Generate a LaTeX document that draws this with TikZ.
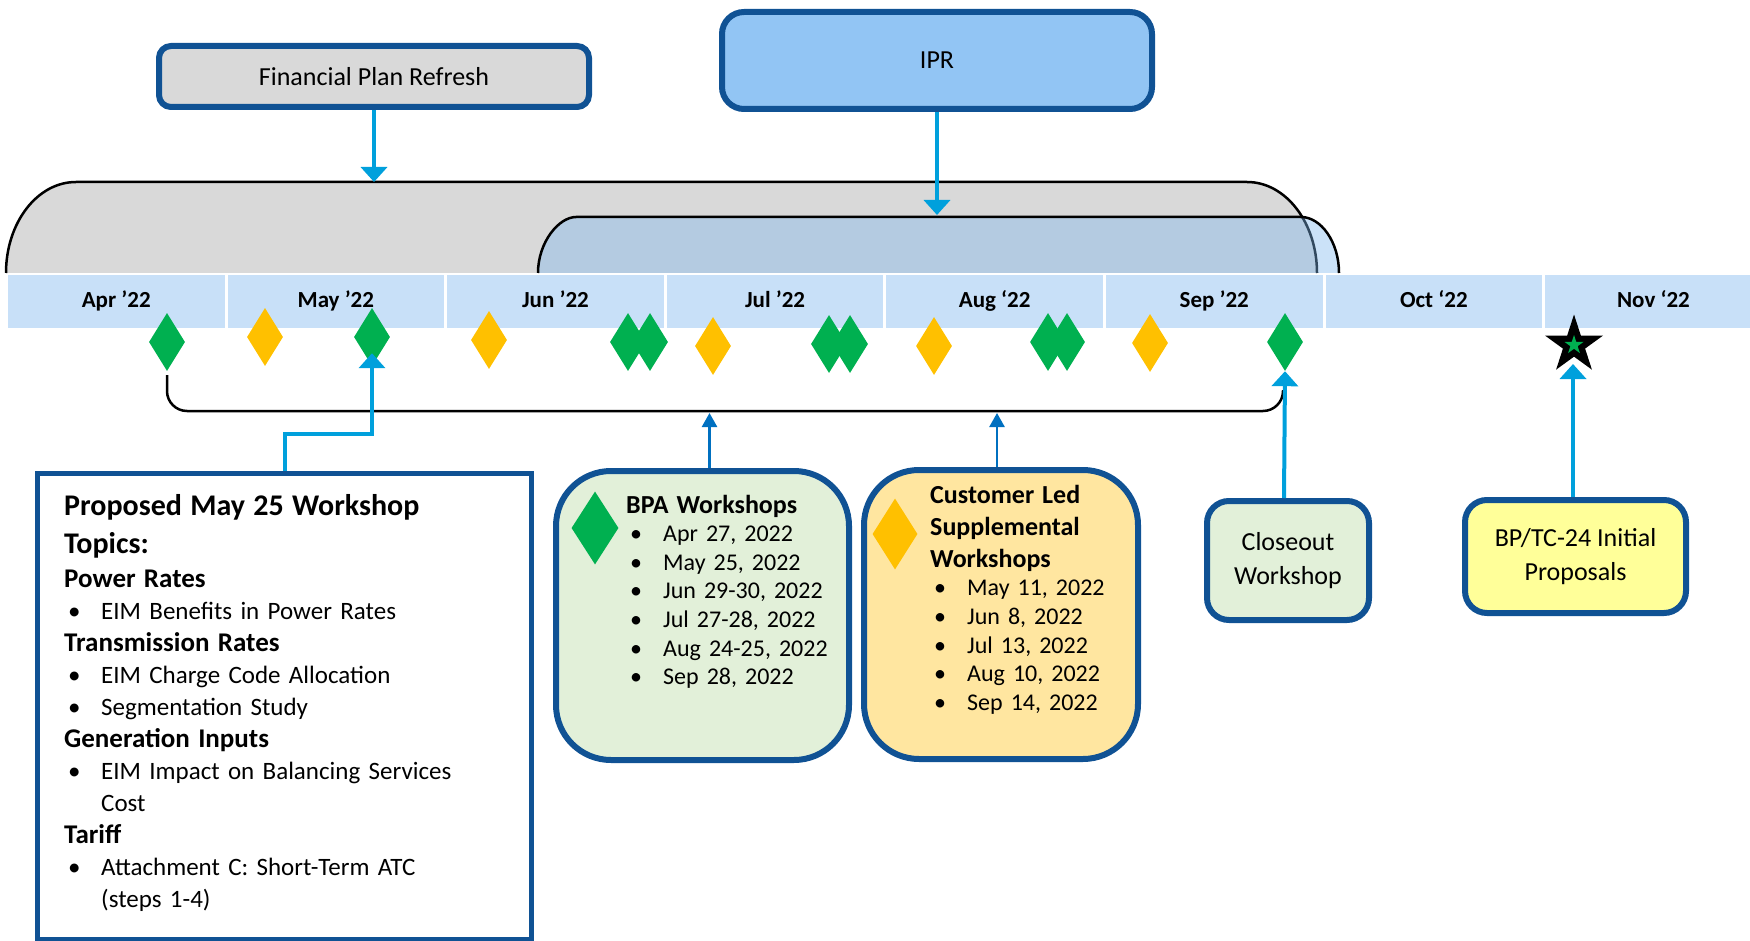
\documentclass[tikz,border=0pt]{standalone}
\usepackage{fontspec}
\setmainfont{Carlito}
\usetikzlibrary{positioning,shapes.geometric,arrows.meta}

\definecolor{edgeblue}{RGB}{16,82,148}
\definecolor{feedcyan}{RGB}{0,160,220}
\definecolor{linkblue}{RGB}{0,112,192}
\definecolor{monthblue}{RGB}{200,224,248}
\definecolor{grayfill}{RGB}{217,217,217}
\definecolor{arcblue}{RGB}{125,183,238}
\definecolor{iprblue}{RGB}{146,197,244}
\definecolor{bpagreen}{RGB}{226,240,217}
\definecolor{custyellow}{RGB}{255,230,160}
\definecolor{propyellow}{RGB}{255,255,153}
\definecolor{gr}{RGB}{0,176,80}
\definecolor{yl}{RGB}{255,192,0}

\newcommand{\bul}[1]{\par\noindent\makebox[37pt][l]{\hspace{4pt}\textbullet}#1\par}
\newcommand{\cont}[1]{\par\noindent\hspace*{37pt}#1\par}

\begin{document}
\begin{tikzpicture}[x=1pt,y=-1pt,
    month/.style={fill=monthblue, minimum width=216.5pt, minimum height=53pt, inner sep=0pt, font=\bfseries\fontsize{23}{28}\selectfont},
    gem/.style={diamond, minimum width=36pt, minimum height=58pt, inner sep=0pt},
    box/.style={draw=edgeblue, line width=6pt, align=center, inner sep=0pt, font=\fontsize{26}{34}\selectfont},
    list/.style={anchor=base west, align=left, inner sep=0pt, text width=#1},
    feed/.style={draw=feedcyan, line width=4pt, -{Triangle[width=26pt,length=15pt]}},
    link/.style={draw=linkblue, line width=2.5pt, -{Triangle[width=15pt,length=14pt]}}]
  \useasboundingbox (0,0) rectangle (1750,941);
  \filldraw[fill=grayfill, draw=black, line width=2.5pt] (6,273) .. controls (6,223) and (37,182) .. (76,182) -- (1247,182) .. controls (1286,182) and (1317,223) .. (1317,273);
  \filldraw[fill=arcblue, fill opacity=0.4, draw=black, line width=2.5pt] (538,273) .. controls (538,242) and (559,217) .. (576,217) -- (1301,217) .. controls (1321,217) and (1339,242) .. (1339,273);
  \coordinate (fprend) at (374,182);
  \coordinate (iprend) at (937,215);
  \foreach \m [count=\i from 0] in {Apr ’22,May ’22,Jun ’22,Jul ’22,Aug ‘22,Sep ’22,Oct ‘22,Nov ‘22}
    \node[month] (m\i) at ({116.25+219.6*\i},301.5) {\raisebox{4pt}{\m}};
  \foreach \x/\y/\c [count=\i] in {167/342/gr,265/337/yl,372/337/gr,489/340/yl,628/342/gr,650/342/gr,713/346/yl,829/344/gr,850/344/gr,934/346/yl,1048/342/gr,1067/342/gr,1150/343/yl,1285/342/gr}
    \node[gem, fill=\c] (d\i) at (\x,\y) {};
  \node[star, star points=5, star point ratio=2.618, fill=black, minimum size=61pt, inner sep=0pt] (star) at (1574,345) {};
  \node[star, star points=5, star point ratio=2.618, fill=gr, minimum size=20pt, inner sep=0pt] (starin) at (star.center) {};
  \coordinate (startip) at (1573,364);
  \draw[line width=2.5pt, rounded corners=20pt] (167,375) -- (167,411) -- (1283,411) -- (1283,390);
  \coordinate (brk) at (0,413);

  \node[box, fill=grayfill, rounded corners=12pt, minimum width=430pt, minimum height=61pt] (fpr) at (374,76.5) {Financial Plan Refresh};
  \node[box, fill=iprblue, rounded corners=22pt, minimum width=430pt, minimum height=97pt] (ipr) at (937,60.5) {IPR};
  \node[box, line width=5pt, minimum width=494pt, minimum height=466pt, anchor=north] (topics) at (284.5,470.5) {};
  \node[box, fill=bpagreen, rounded corners=55pt, minimum width=293pt, minimum height=289pt] (bpa) at (702.5,615.5) {};
  \node[box, fill=custyellow, rounded corners=55pt, minimum width=274pt, minimum height=289pt] (cust) at (1001,614.5) {};
  \node[box, fill=bpagreen, rounded corners=22pt, minimum width=162pt, minimum height=119pt] (close) at (1288,560.5) {Closeout\\Workshop};
  \node[box, fill=propyellow, rounded corners=22pt, minimum width=221pt, minimum height=113pt] (prop) at (1575.5,556.5) {BP/TC-24 Initial\\Proposals};

  \node[list=460pt, font=\fontsize{25}{32}\selectfont] (topicstxt) at (64,515) {%
    {\bfseries\fontsize{30}{38}\selectfont Proposed May 25 Workshop\par Topics:\par}
    {\bfseries\fontsize{27}{34}\selectfont Power Rates\par}
    \bul{EIM Benefits in Power Rates}
    {\bfseries\fontsize{27}{32}\selectfont Transmission Rates\par}
    \bul{EIM Charge Code Allocation}
    \bul{Segmentation Study}
    {\bfseries\fontsize{27}{32}\selectfont Generation Inputs\par}
    \bul{EIM Impact on Balancing Services}
    \cont{Cost}
    {\bfseries\fontsize{27}{32}\selectfont Tariff\par}
    \bul{Attachment C: Short-Term ATC}
    \cont{(steps 1-4)}};
  \node[gem, fill=gr, minimum width=47pt, minimum height=73pt] (bpaicon) at (595,528) {};
  \node[list=220pt, font=\fontsize{24}{28.6}\selectfont] (bpatxt) at (626,513) {%
    {\bfseries\fontsize{26}{31}\selectfont BPA Workshops\par}
    \bul{Apr 27, 2022}
    \bul{May 25, 2022}
    \bul{Jun 29-30, 2022}
    \bul{Jul 27-28, 2022}
    \bul{Aug 24-25, 2022}
    \bul{Sep 28, 2022}};
  \node[gem, fill=yl, minimum width=45pt, minimum height=71pt] (custicon) at (895,534) {};
  \node[list=200pt, font=\fontsize{24}{28.7}\selectfont] (custtxt) at (930,503) {%
    {\bfseries\fontsize{26}{32}\selectfont Customer Led\par Supplemental\par Workshops\par}
    \bul{May 11, 2022}
    \bul{Jun 8, 2022}
    \bul{Jul 13, 2022}
    \bul{Aug 10, 2022}
    \bul{Sep 14, 2022}};

  \draw[feed] (fpr.south) -- (fprend);
  \draw[feed] (ipr.south) -- (iprend);
  \draw[feed] (topics.north) -- ++(0,-37) -| ([yshift=13pt]d3.south);
  \draw[link] ([xshift=7pt]bpa.north) -- ([xshift=7pt]bpa.north |- brk);
  \draw[link] ([xshift=-4pt]cust.north) -- ([xshift=-4pt]cust.north |- brk);
  \draw[feed] ([xshift=-4pt]close.north) -- (d14.south);
  \draw[feed] ([xshift=-2.5pt]prop.north) -- (startip);
\end{tikzpicture}
\end{document}
